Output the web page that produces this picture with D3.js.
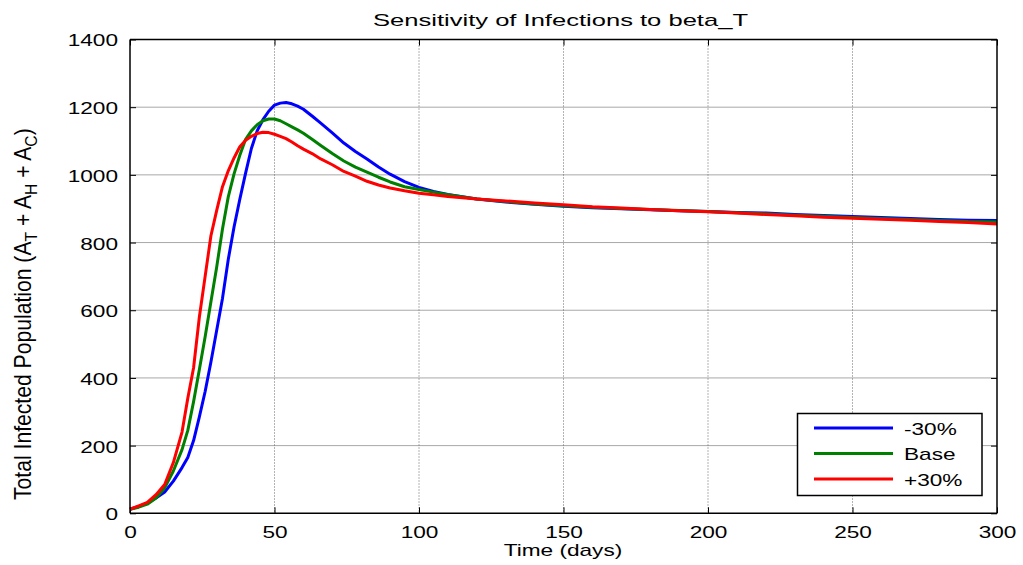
<!DOCTYPE html>
<html>
<head>
<meta charset="utf-8">
<script src="https://cdn.jsdelivr.net/npm/d3@7"></script>
<style>
  html, body { margin: 0; padding: 0; background: #fff; }
  svg { display: block; }
</style>
</head>
<body>
<svg id="chart" width="1023" height="565"></svg>
<script>
const days = [0,3,6,9,12,15,18,20,22,24,26,28,30,32,34,36,38,40,42,44,46,48,50,52,54,56,58,60,63,66,70,74,78,82,86,90,95,100,105,110,120,130,140,150,160,170,180,190,200,210,220,230,240,250,260,270,280,290,300];
const minus30 = [12,20,30,45,63,95,135,165,215,285,360,447,541,635,750,846,928,1005,1078,1130,1163,1188,1206,1212,1214,1210,1203,1194,1174,1153,1124,1094,1069,1047,1023,1002,980,963,951,942,929,920,913,907,903,900,897,894,892,889,887,883,880,877,874,871,868,866,865];
const base = [12,18,27,45,75,125,188,245,330,425,522,625,728,840,935,1003,1058,1105,1130,1148,1160,1165,1165,1160,1151,1142,1133,1123,1105,1087,1063,1041,1023,1008,993,979,965,957,949,941,929,921,914,909,904,901,898,895,892,888,885,881,878,874,871,868,865,862,861];
const plus30 = [12,22,32,55,85,150,240,340,430,580,700,820,895,965,1012,1050,1083,1102,1114,1122,1126,1125,1120,1114,1107,1097,1086,1076,1063,1047,1030,1010,996,981,970,961,953,946,941,936,929,923,917,912,906,902,898,894,891,887,883,879,875,872,869,866,862,859,855];
const seriesNames = ["-30%", "Base", "+30%"];
const seriesColors = ["#0000ff", "#008000", "#ff0000"];
const xTicks = [0,50,100,150,200,250,300];
const yTicks = [0,200,400,600,800,1000,1200,1400];
const title = "Sensitivity of Infections to beta_T";
const xLabel = "Time (days)";

const svg = d3.select("#chart");
const L = 130, R = 997, T = 39.5, B = 513.3;
const x = d3.scaleLinear().domain([0,300]).range([L,R]);
const y = d3.scaleLinear().domain([0,1400]).range([B,T]);
const font = "'Liberation Sans', Arial, sans-serif";
const STRETCH = 1.33;
function stretch(sel, k) {
  sel.each(function() {
    const w = this.getComputedTextLength();
    d3.select(this).attr("textLength", w * k).attr("lengthAdjust", "spacingAndGlyphs");
  });
}

// grid
svg.append("g").selectAll("line").data(yTicks.slice(1,-1)).join("line")
  .attr("x1", L).attr("x2", R).attr("y1", d => y(d)).attr("y2", d => y(d))
  .attr("stroke", "#a8a8a8").attr("stroke-width", 1);
svg.append("g").selectAll("line").data(xTicks.slice(1,-1)).join("line")
  .attr("y1", T).attr("y2", B).attr("x1", d => x(d)).attr("x2", d => x(d))
  .attr("stroke", "#666").attr("stroke-width", 1).attr("stroke-dasharray", "1,2");

// lines
const allSeries = [minus30, base, plus30];
const line = d3.line().x((d,i) => x(days[i])).y(d => y(d));
allSeries.forEach((s, k) => {
  svg.append("path").datum(s).attr("d", line)
    .attr("fill", "none").attr("stroke", seriesColors[k]).attr("stroke-width", 3)
    .attr("stroke-linejoin", "round");
});

// axes (ticks inward)
const tl = 6;
const gB = svg.append("g").attr("transform", `translate(0,${B})`)
  .call(d3.axisBottom(x).tickValues(xTicks).tickSize(-tl).tickPadding(13).tickFormat(d3.format("d")));
const gT = svg.append("g").attr("transform", `translate(0,${T})`)
  .call(d3.axisTop(x).tickValues(xTicks).tickSize(-tl).tickFormat(""));
const gL = svg.append("g").attr("transform", `translate(${L},0)`)
  .call(d3.axisLeft(y).tickValues(yTicks).tickSize(-tl).tickPadding(12).tickFormat(d3.format("d")));
const gR = svg.append("g").attr("transform", `translate(${R},0)`)
  .call(d3.axisRight(y).tickValues(yTicks).tickSize(-tl).tickFormat(""));
[gB, gT, gL, gR].forEach(g => {
  g.select(".domain").attr("stroke", "#000").attr("stroke-width", 1.5);
  g.selectAll(".tick line").attr("stroke", "#000").attr("stroke-width", 1);
  g.selectAll("text").attr("font-family", font).attr("font-size", 17).attr("fill", "#000");
});
gB.selectAll(".domain").attr("d", `M${L},0H${R}`);
gT.selectAll(".domain").attr("d", `M${L},0H${R}`);
gL.selectAll(".domain").attr("d", `M0,${B}V${T}`);
gR.selectAll(".domain").attr("d", `M0,${B}V${T}`);
stretch(gB.selectAll(".tick text"), STRETCH);
stretch(gL.selectAll(".tick text"), STRETCH);
gL.selectAll(".tick text").attr("dy", "0.38em");

// title & labels
const tt = svg.append("text").attr("x", 373).attr("y", 25.7)
  .attr("font-family", font).attr("font-size", 17).text(title);
tt.attr("textLength", 375).attr("lengthAdjust", "spacingAndGlyphs");
const xl = svg.append("text").attr("x", (L+R)/2 - 0.5).attr("y", 556).attr("text-anchor", "middle")
  .attr("font-family", font).attr("font-size", 17).text(xLabel);
stretch(xl, STRETCH);

const ylg = svg.append("g");
const yl = ylg.append("text")
  .attr("font-family", "'Liberation Sans Narrow', 'Arial Narrow', sans-serif").attr("font-size", 23);
yl.append("tspan").text("Total Infected Population (A");
yl.append("tspan").attr("dy", 6).attr("font-size", 17).text("T");
yl.append("tspan").attr("dy", -6).text(" + A");
yl.append("tspan").attr("dy", 6).attr("font-size", 17).text("H");
yl.append("tspan").attr("dy", -6).text(" + A");
yl.append("tspan").attr("dy", 6).attr("font-size", 17).text("C");
yl.append("tspan").attr("dy", -6).text(")");
{
  const bb = yl.node().getBBox();
  const target = 372; // from y=500 up to y=128
  const k = target / bb.width;
  ylg.attr("transform", `translate(31,500) rotate(-90) scale(${k},1)`);
}

// legend
const lg = svg.append("g");
lg.append("rect").attr("x", 797.5).attr("y", 413.5).attr("width", 184.5).attr("height", 82)
  .attr("fill", "#fff").attr("stroke", "#000").attr("stroke-width", 1.5);
const ly = [428, 453.5, 479];
seriesNames.forEach((n, k) => {
  lg.append("line").attr("x1", 814).attr("x2", 893).attr("y1", ly[k]).attr("y2", ly[k])
    .attr("stroke", seriesColors[k]).attr("stroke-width", 3);
  const t = lg.append("text").attr("x", 904).attr("y", ly[k] + 6.5).attr("font-family", font)
    .attr("font-size", 17).text(n);
  stretch(t, STRETCH);
});
</script>
</body>
</html>
